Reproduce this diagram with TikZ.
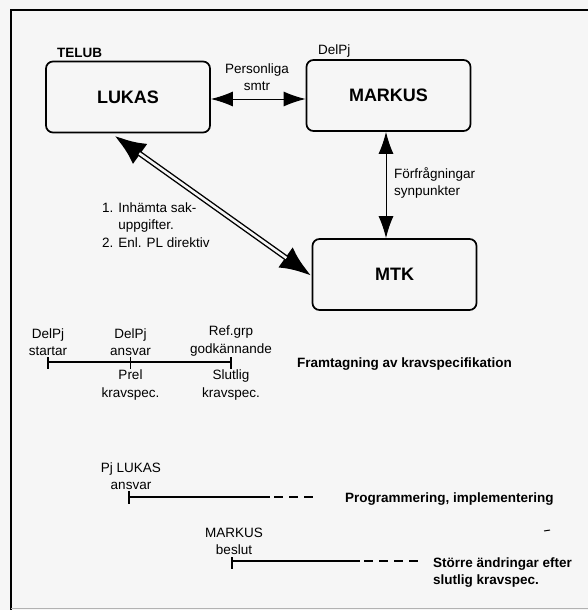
\documentclass[tikz,border=0pt]{standalone}
\usepackage{fontspec}
\setmainfont{Liberation Sans}
\usetikzlibrary{arrows.meta}
\definecolor{paper}{rgb}{0.965,0.965,0.965}
\tikzset{
  box/.style={draw, line width=1.7pt, rounded corners=7pt, minimum width=164pt, minimum height=71pt, font=\fontsize{18}{20}\selectfont\bfseries},
  lbl/.style={inner sep=0pt, font=\fontsize{13.5}{17.5}\selectfont},
  blbl/.style={inner sep=0pt, font=\fontsize{13.5}{17.5}\selectfont\bfseries},
  thinarrow/.style={line width=1pt, {Latex[length=22pt,width=15pt]}-{Latex[length=22pt,width=15pt]}},
  tline/.style={line width=2.6pt},
  tick/.style={line width=1.4pt},
  dline/.style={line width=1.8pt, dash pattern=on 9pt off 6pt},
  frame/.style={line width=1.4pt}
}
\begin{document}
\begin{tikzpicture}[x=1pt,y=-1pt]
\fill[paper] (0,0) rectangle (588,610);
\useasboundingbox (0,0) rectangle (588,610);
% frame
\coordinate (fTL) at (11,10);
\coordinate (fTR) at (588,10);
\coordinate (fBL) at (11,610);
\draw[frame] (fTR) -- (fTL) -- (fBL);
\draw[gray!60, line width=0.6pt] (11,608) -- (588,608);

% boxes
\node[box] (LUKAS) at (128,97) {LUKAS};
\node[box] (MARKUS) at (388.5,95.5) {MARKUS};
\node[box] (MTK) at (394.5,274.5) {MTK};
\node[blbl, anchor=west] (telub) at (57,53) {TELUB};
\node[lbl, anchor=west] (delpjtop) at (318,51) {DelPj};

% connectors
\draw[thinarrow] ([yshift=-2pt]LUKAS.east) -- ([yshift=-2pt]LUKAS.east -| MARKUS.west);
\node[lbl, align=center] (pers) at (257,77) {Personliga\\smtr};

\draw[thinarrow] ([xshift=-2.5pt]MARKUS.south) -- ([xshift=-2.5pt]MARKUS.south |- MTK.north);
\node[lbl, align=left, anchor=west] (forfr) at (394,183) {Förfrågningar\\synpunkter};

\coordinate (da) at ([xshift=-14pt,yshift=-2pt]LUKAS.south);
\coordinate (db) at ([yshift=-1.5pt]MTK.west);
\draw[line width=5.4pt, {Latex[length=32pt,width=25pt]}-{Latex[length=32pt,width=25pt]}] (da) -- (db);
\draw[line width=2.6pt, paper, shorten <=31pt, shorten >=31pt] (da) -- (db);
\node[lbl, align=left, anchor=west] (inh) at (102,225) {1. Inhämta sak-\\\phantom{1. }uppgifter.\\2. Enl. PL direktiv};

% timeline 1
\coordinate (t1s) at (48,362);
\coordinate (t1m) at (130.5,362);
\coordinate (t1e) at (231,362);
\draw[tline] (t1s) -- (t1e);
\draw[tick] ([yshift=5pt]t1s) -- ([yshift=-7pt]t1s);
\draw[tick] ([yshift=5pt]t1m) -- ([yshift=-7pt]t1m);
\draw[tick] ([yshift=5pt]t1e) -- ([yshift=-7pt]t1e);
\node[lbl, align=center, anchor=south] (l1a) at ([yshift=6pt]t1s) {DelPj\\startar};
\node[lbl, align=center, anchor=south] (l1b) at ([yshift=6pt]t1m) {DelPj\\ansvar};
\node[lbl, align=center, anchor=south] (l1c) at ([yshift=6pt]t1e) {Ref.grp\\godkännande};
\node[lbl, align=center, anchor=north] (l1d) at ([yshift=-8pt]t1m) {Prel\\kravspec.};
\node[lbl, align=center, anchor=north] (l1e) at ([yshift=-8pt]t1e) {Slutlig\\kravspec.};
\node[blbl, anchor=west] (fram) at (297,364) {Framtagning av kravspecifikation};

% timeline 2
\coordinate (t2s) at (129,497);
\coordinate (t2d) at (270,497);
\coordinate (t2e) at (317,497);
\draw[tline] (t2s) -- (t2d);
\draw[dline] ([xshift=4pt]t2d) -- (t2e);
\draw[tick] ([yshift=6pt]t2s) -- ([yshift=-7pt]t2s);
\node[lbl, align=center, anchor=south] (l2a) at ([xshift=2pt,yshift=7pt]t2s) {Pj LUKAS\\ansvar};
\node[blbl, anchor=west] (prog) at (345,499) {Programmering, implementering};
\coordinate (m1) at (544,531);
\coordinate (m2) at (550,530);
\draw[line width=1pt] (m1) -- (m2);

% timeline 3
\coordinate (t3s) at (232,561);
\coordinate (t3d) at (360,561);
\coordinate (t3e) at (418,561);
\draw[tline] (t3s) -- (t3d);
\draw[dline] ([xshift=4pt]t3d) -- (t3e);
\draw[tick] ([yshift=4pt]t3s) -- ([yshift=-8pt]t3s);
\node[lbl, align=center, anchor=south] (l3a) at ([xshift=2pt,yshift=6pt]t3s) {MARKUS\\beslut};
\node[blbl, align=left, anchor=west] (storre) at (433,572.5) {Större ändringar efter\\slutlig kravspec.};
\end{tikzpicture}
\end{document}
